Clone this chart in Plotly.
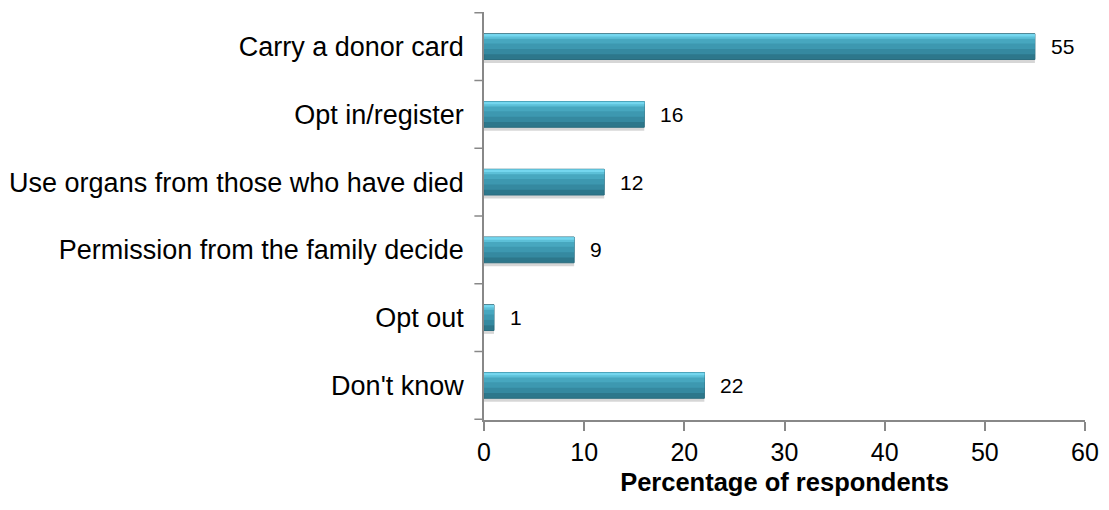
import plotly.graph_objects as go

categories = ["Carry a donor card", "Opt in/register", "Use organs from those who have died",
              "Permission from the family decide", "Opt out", "Don't know"]
values = [55, 16, 12, 9, 1, 22]
x_ticks = [0, 10, 20, 30, 40, 50, 60]
x_title = "Percentage of respondents"

FONT = "Liberation Sans, Arial, sans-serif"
BW = 0.38  # bar thickness in category units
TOP = -BW / 2

fig = go.Figure()
# shadow
fig.add_trace(go.Bar(y=categories, x=values, orientation="h", width=BW + 0.02, offset=TOP + 0.03,
                     marker=dict(color="rgba(0,0,0,0.16)", line=dict(width=0)),
                     hoverinfo="skip", showlegend=False))
# base (darker bottom)
fig.add_trace(go.Bar(y=categories, x=values, orientation="h", width=BW, offset=TOP,
                     marker=dict(color="#2d778b", line=dict(color="#2a6c7e", width=1)),
                     showlegend=False))
# gradient bands (lighter toward the top)
bands = [(0.30, "#3589a0"), (0.22, "#3d98b0"), (0.14, "#47a7bf"), (0.07, "#5cc0d8"), (0.035, "#74d6ee")]
for w, col in bands:
    fig.add_trace(go.Bar(y=categories, x=values, orientation="h", width=w, offset=TOP + 0.004,
                         marker=dict(color=col, line=dict(width=0)),
                         hoverinfo="skip", showlegend=False))

for c, v in zip(categories, values):
    fig.add_annotation(x=v, y=c, text=str(v), showarrow=False, xanchor="left",
                       xshift=14, font=dict(size=21, color="#000", family=FONT))

# page has an 8px body margin, so margins are offset to compensate
fig.update_layout(
    width=1109, height=510, barmode="overlay",
    margin=dict(l=476, r=32, t=4, b=98, autoexpand=False),
    paper_bgcolor="white", plot_bgcolor="white",
    font=dict(family=FONT, color="#000", size=27),
)
fig.update_xaxes(range=[0, 60], tickvals=x_ticks, showgrid=False, zeroline=False,
                 showline=True, linecolor="#888", linewidth=1.5, ticks="outside",
                 ticklen=9, tickcolor="#888", tickwidth=1.5, automargin=False,
                 tickfont=dict(size=25, family=FONT),
                 title=dict(text="<b>" + x_title + "</b>", font=dict(size=25.5, family=FONT), standoff=8))
fig.update_yaxes(categoryorder="array", categoryarray=categories, autorange="reversed",
                 showgrid=False, showline=True, linecolor="#888", linewidth=1.5,
                 ticks="", tickfont=dict(size=27, family=FONT), ticklabelstandoff=13,
                 automargin=False)
# tick marks between categories on y axis
for i in range(len(categories) + 1):
    fig.add_shape(type="line", xref="paper", yref="y", x0=-0.016, x1=0,
                  y0=i - 0.5, y1=i - 0.5, line=dict(color="#888", width=1.5))

fig.write_html("out.html")
